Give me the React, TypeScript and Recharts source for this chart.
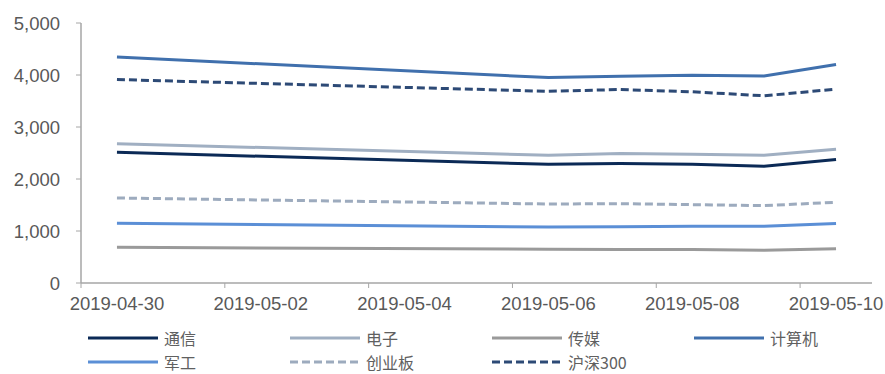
import React from 'react'
import { LineChart, Line, XAxis, YAxis } from 'recharts'

// trading days shown in the chart
const dates = ['2019-04-30', '2019-05-06', '2019-05-07', '2019-05-08', '2019-05-09', '2019-05-10']
const tickDates = ['2019-04-30', '2019-05-02', '2019-05-04', '2019-05-06', '2019-05-08', '2019-05-10']
const yTicks = [0, 1000, 2000, 3000, 4000, 5000]

const tongxin = [2513, 2283, 2296, 2283, 2244, 2373]
const dianzi = [2680, 2456, 2488, 2475, 2456, 2571]
const chuanmei = [687, 648, 645, 642, 629, 661]
const jisuanji = [4346, 3950, 3975, 3994, 3981, 4200]
const jungong = [1150, 1077, 1083, 1090, 1090, 1142]
const chuangyeban = [1635, 1519, 1525, 1507, 1488, 1552]
const hs300 = [3913, 3686, 3721, 3677, 3600, 3730]

const DAY = 24 * 3600 * 1000
const ts = (d: string) => Date.parse(d)

const series = [
  { key: 'tongxin', name: '通信', values: tongxin, color: '#0b2a56', dash: undefined },
  { key: 'dianzi', name: '电子', values: dianzi, color: '#a0afc2', dash: undefined },
  { key: 'chuanmei', name: '传媒', values: chuanmei, color: '#9a9a9a', dash: undefined },
  { key: 'jisuanji', name: '计算机', values: jisuanji, color: '#4070ad', dash: undefined },
  { key: 'jungong', name: '军工', values: jungong, color: '#5b8fd6', dash: undefined },
  { key: 'chuangyeban', name: '创业板', values: chuangyeban, color: '#9dabbe', dash: '8 4' },
  { key: 'hs300', name: '沪深300', values: hs300, color: '#2d4a76', dash: '8 4' },
]

const data = dates.map((d, i) => {
  const row: Record<string, number> = { t: ts(d) }
  series.forEach((s) => {
    row[s.key] = s.values[i]
  })
  return row
})

const domain = [ts(dates[0]) - DAY / 2, ts(dates[dates.length - 1]) + DAY / 2]
const labelTicks = tickDates.map(ts)
// tick marks sit between days, like the label boundaries
const markTicks = tickDates.map((d) => ts(d) - DAY / 2)

const axisColor = '#a6a6a6'
const font = '"Liberation Sans", Arial, sans-serif'

export default function App() {
  return (
    <div style={{ position: 'relative', width: 885, height: 374 }}>
      <style>{'body { margin: 0; }'}</style>
      <LineChart width={885} height={318} data={data} margin={{ top: 23, right: 13, left: 0, bottom: 0 }}>
        <XAxis
          xAxisId="b"
          dataKey="t"
          type="number"
          domain={domain}
          ticks={labelTicks}
          interval={0}
          axisLine={false}
          tickLine={false}
          height={29}
          tickFormatter={(v: number) => new Date(v).toISOString().slice(0, 10)}
          tick={{ fontSize: 18.5, fill: '#595959', fontFamily: font }}
        />
        <XAxis
          xAxisId="a"
          dataKey="t"
          type="number"
          domain={domain}
          ticks={markTicks}
          interval={0}
          tick={() => <g />}
          tickSize={5}
          height={6}
          stroke={axisColor}
          tickLine={{ stroke: axisColor }}
          axisLine={{ stroke: axisColor, strokeWidth: 1.5 }}
        />
        <YAxis
          domain={[0, 5000]}
          ticks={yTicks}
          width={81}
          tickSize={5}
          tickMargin={16}
          interval={0}
          stroke={axisColor}
          axisLine={{ stroke: axisColor, strokeWidth: 1.5 }}
          tickFormatter={(v: number) => v.toLocaleString('en-US')}
          tick={{ fontSize: 18.5, fill: '#595959', fontFamily: font }}
        />
        {series.map((s) => (
          <Line
            key={s.key}
            xAxisId="a"
            dataKey={s.key}
            name={s.name}
            stroke={s.color}
            strokeWidth={3}
            strokeDasharray={s.dash}
            dot={false}
            activeDot={false}
            type="linear"
            isAnimationActive={false}
          />
        ))}
      </LineChart>
      {series.map((s, i) => {
        const col = i % 4
        const row = Math.floor(i / 4)
        return (
          <div
            key={s.key}
            style={{
              position: 'absolute',
              left: 88 + col * 202,
              top: 330 + row * 24,
              height: 16,
              lineHeight: '16px',
              display: 'flex',
              alignItems: 'center',
              fontFamily: '"Noto Sans CJK SC", "Liberation Sans", sans-serif',
              fontSize: 16,
              color: '#606060',
              whiteSpace: 'nowrap',
            }}
          >
            <svg width={70} height={6} style={{ marginRight: 6 }}>
              <line x1={0} y1={3} x2={70} y2={3} stroke={s.color} strokeWidth={3} strokeDasharray={s.dash} />
            </svg>
            <span>{s.name}</span>
          </div>
        )
      })}
    </div>
  )
}
